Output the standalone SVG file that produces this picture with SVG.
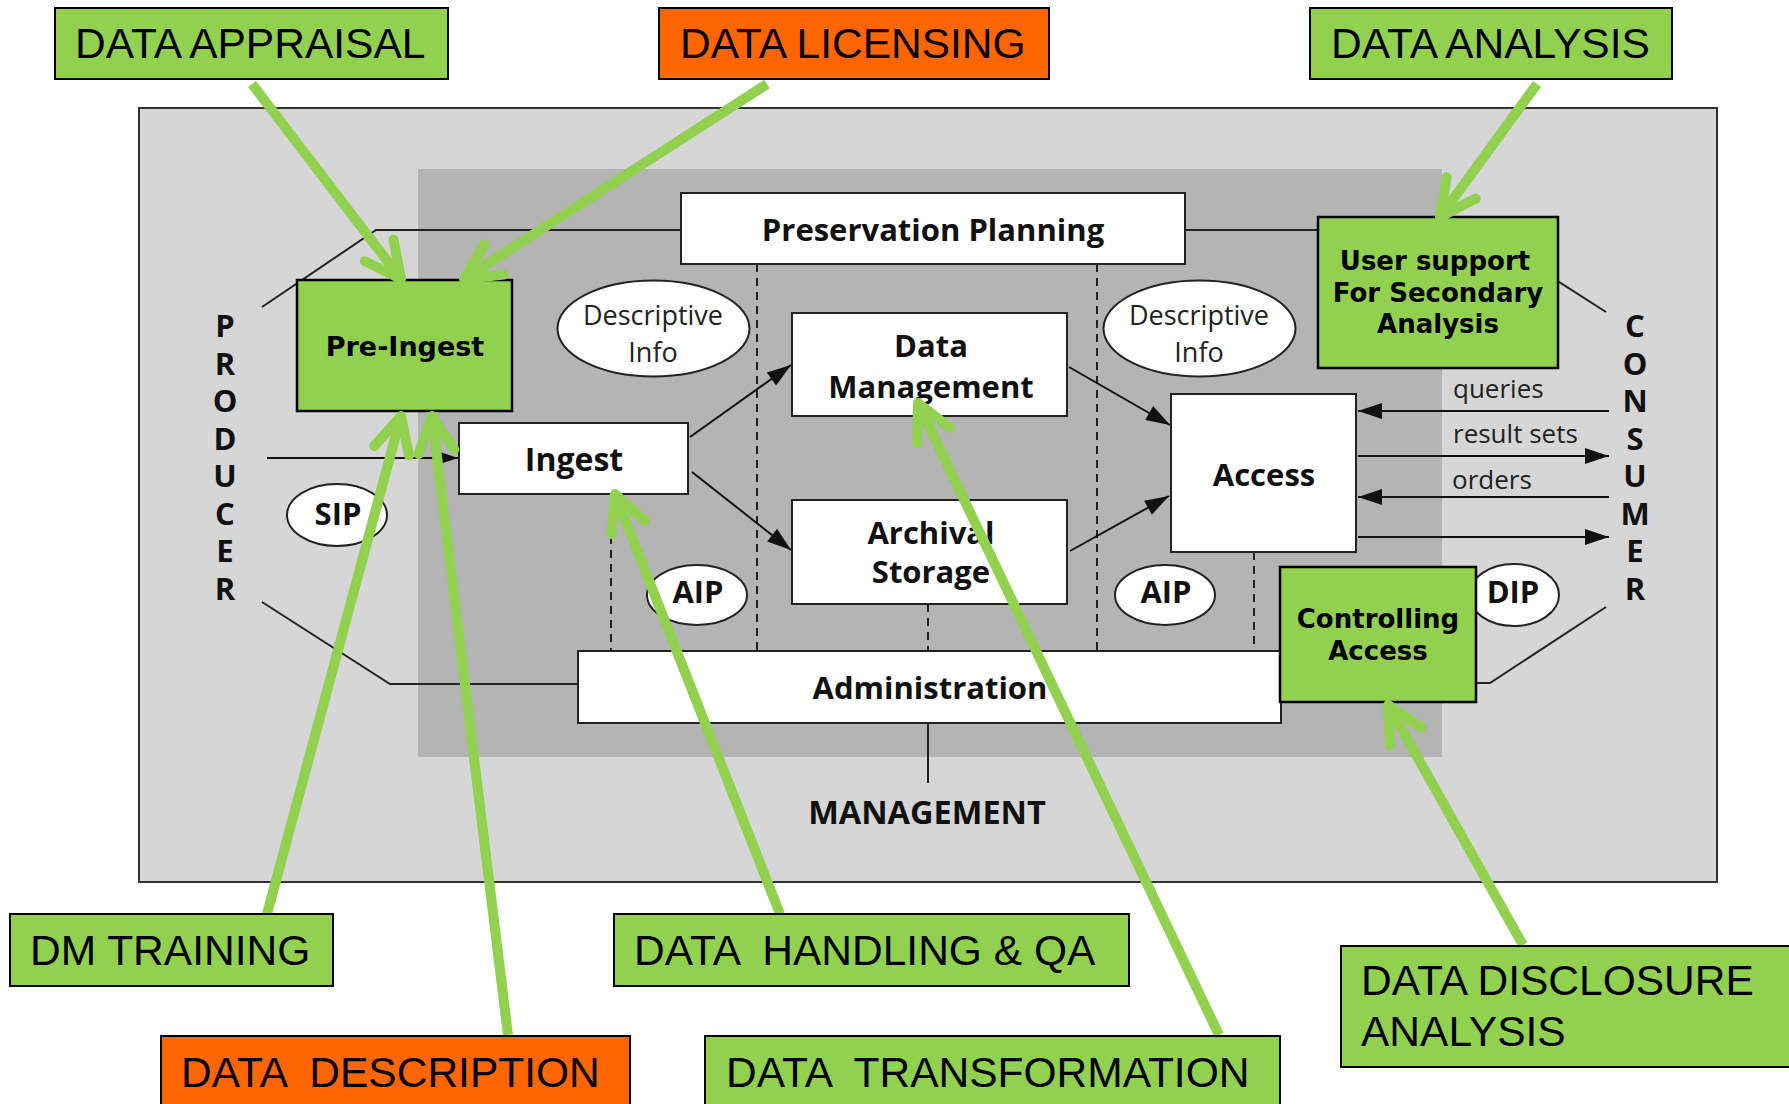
<svg xmlns="http://www.w3.org/2000/svg" width="1789" height="1104" viewBox="0 0 1789 1104">
<defs>
<style>
.lbl{font-family:"Liberation Sans",Arial,sans-serif;font-size:42.5px;fill:#000;white-space:pre}
.b{font-family:"Open Sans",sans-serif;font-weight:bold;font-size:31px;text-anchor:middle;fill:#111}
.r{font-family:"Open Sans",sans-serif;font-size:27px;text-anchor:middle;fill:#222}
.rs{font-family:"Open Sans",sans-serif;font-size:26px;fill:#222}
.g{font-family:"DejaVu Sans",Verdana,sans-serif;font-weight:bold;font-size:26px;text-anchor:middle;fill:#000}
.wb{fill:#fff;stroke:#222;stroke-width:2}
.el{fill:#fff;stroke:#222;stroke-width:2}
.gb{fill:#92d050;stroke:#000;stroke-width:2.5}
.ob{fill:#ff6600;stroke:#000;stroke-width:2}
.ln{fill:none;stroke:#222;stroke-width:2}
.ar{fill:none;stroke:#111;stroke-width:2;marker-end:url(#ah)}
.dash{fill:none;stroke:#222;stroke-width:2;stroke-dasharray:8 6}
.ga{fill:none;stroke:#92d050;stroke-width:10;marker-end:url(#gah)}
</style>
<marker id="ah" markerUnits="userSpaceOnUse" viewBox="-30 -15 35 30" markerWidth="35" markerHeight="30" refX="0" refY="0" orient="auto">
<path d="M0,0 L-24,-8 L-24,8 Z" fill="#111"/>
</marker>
<marker id="gah" markerUnits="userSpaceOnUse" viewBox="-60 -35 70 70" markerWidth="70" markerHeight="70" refX="0" refY="0" orient="auto" overflow="visible">
<path d="M-36,-18 L0,0 L-36,18" fill="none" stroke="#92d050" stroke-width="10" stroke-linecap="round" stroke-linejoin="round"/>
</marker>
</defs>
<rect width="1789" height="1104" fill="#fff"/>

<g id="background">
<rect x="139" y="108" width="1578" height="774" fill="#d6d6d6" stroke="#333" stroke-width="2"/>
<rect x="418" y="169" width="1024" height="588" fill="#b4b4b4"/>
</g>

<g id="connectors">
<path class="ln" d="M262,307 L376,230 L681,230"/>
<path class="ln" d="M1185,230 L1478,230 L1606,312"/>
<path class="ln" d="M262,602 L390,684 L578,684"/>
<path class="ln" d="M1606,607 L1490,683 L1281,683"/>
<line class="dash" x1="757" y1="264" x2="757" y2="651"/>
<line class="dash" x1="1097" y1="264" x2="1097" y2="651"/>
<line class="dash" x1="611" y1="494" x2="611" y2="651"/>
<line class="dash" x1="928" y1="604" x2="928" y2="651"/>
<line class="dash" x1="1254" y1="552" x2="1254" y2="651"/>
<line class="ln" x1="928" y1="723" x2="928" y2="783"/>
<line class="ar" x1="267" y1="458" x2="458" y2="458"/>
<line class="ar" x1="690" y1="437" x2="791" y2="365"/>
<line class="ar" x1="692" y1="472" x2="791" y2="550"/>
<line class="ar" x1="1069" y1="367" x2="1170" y2="425"/>
<line class="ar" x1="1070" y1="551" x2="1169" y2="496"/>
<line class="ar" x1="1609" y1="411" x2="1358" y2="411"/>
<line class="ar" x1="1358" y1="456" x2="1609" y2="456"/>
<line class="ar" x1="1609" y1="497" x2="1358" y2="497"/>
<line class="ar" x1="1358" y1="537" x2="1609" y2="537"/>
</g>

<g id="preservation-planning">
<rect class="wb" x="681" y="193" width="504" height="71"/>
<text class="b" x="933" y="241">Preservation Planning</text>
</g>
<g id="ingest">
<rect class="wb" x="459" y="423" width="229" height="71"/>
<text class="b" x="574" y="471" style="font-size:32px">Ingest</text>
</g>
<g id="data-management">
<rect class="wb" x="792" y="313" width="275" height="103"/>
<text class="b"><tspan x="931" y="357">Data</tspan><tspan x="931" y="398">Management</tspan></text>
</g>
<g id="archival-storage">
<rect class="wb" x="792" y="500" width="275" height="104"/>
<text class="b"><tspan x="931" y="544">Archival</tspan><tspan x="931" y="583">Storage</tspan></text>
</g>
<g id="access">
<rect class="wb" x="1171" y="394" width="185" height="158"/>
<text class="b" x="1264" y="486">Access</text>
</g>
<g id="administration">
<rect class="wb" x="578" y="651" width="703" height="72"/>
<text class="b" x="930" y="699">Administration</text>
</g>
<g id="management">
<text class="b" x="927" y="824" style="font-size:32.5px">MANAGEMENT</text>
</g>
<g id="producer">
<text class="b"><tspan x="225" y="337">P</tspan><tspan x="225" y="374.5">R</tspan><tspan x="225" y="412">O</tspan><tspan x="225" y="449.5">D</tspan><tspan x="225" y="487">U</tspan><tspan x="225" y="524.5">C</tspan><tspan x="225" y="562">E</tspan><tspan x="225" y="599.5">R</tspan></text>
</g>
<g id="consumer">
<text class="b"><tspan x="1635" y="337">C</tspan><tspan x="1635" y="374.5">O</tspan><tspan x="1635" y="412">N</tspan><tspan x="1635" y="449.5">S</tspan><tspan x="1635" y="487">U</tspan><tspan x="1635" y="524.5">M</tspan><tspan x="1635" y="562">E</tspan><tspan x="1635" y="599.5">R</tspan></text>
</g>
<g id="flow-labels">
<text class="rs" x="1453" y="398">queries</text>
<text class="rs" x="1453" y="443">result sets</text>
<text class="rs" x="1452" y="489">orders</text>
</g>
<g id="descriptive-info-1">
<ellipse class="el" cx="653.5" cy="328.5" rx="96" ry="48"/>
<text class="r"><tspan x="653" y="325">Descriptive</tspan><tspan x="653" y="362">Info</tspan></text>
</g>
<g id="descriptive-info-2">
<ellipse class="el" cx="1199.5" cy="328.5" rx="96" ry="48"/>
<text class="r"><tspan x="1199" y="325">Descriptive</tspan><tspan x="1199" y="362">Info</tspan></text>
</g>
<g id="sip">
<ellipse class="el" cx="337" cy="515" rx="50" ry="31"/>
<text class="b" x="338" y="525">SIP</text>
</g>
<g id="aip-1">
<ellipse class="el" cx="697" cy="595" rx="50" ry="30"/>
<text class="b" x="698" y="603">AIP</text>
</g>
<g id="aip-2">
<ellipse class="el" cx="1165" cy="595" rx="50" ry="30"/>
<text class="b" x="1166" y="603">AIP</text>
</g>
<g id="dip">
<ellipse class="el" cx="1514" cy="595" rx="45" ry="31"/>
<text class="b" x="1513" y="603">DIP</text>
</g>

<g id="pre-ingest">
<rect class="gb" x="297" y="280" width="215" height="131"/>
<text class="g" x="405" y="356" style="font-size:27px">Pre-Ingest</text>
</g>
<g id="user-support">
<rect class="gb" x="1318" y="217" width="240" height="151"/>
<text class="g"><tspan x="1435" y="270">User support</tspan><tspan x="1438" y="302">For Secondary</tspan><tspan x="1438" y="333">Analysis</tspan></text>
</g>
<g id="controlling-access">
<rect class="gb" x="1280" y="567" width="196" height="135"/>
<text class="g"><tspan x="1378" y="628">Controlling</tspan><tspan x="1378" y="660">Access</tspan></text>
</g>

<g id="green-arrows">
<line class="ga" x1="252" y1="84" x2="401" y2="279"/>
<line class="ga" x1="767" y1="84" x2="464" y2="279"/>
<line class="ga" x1="1537" y1="84" x2="1440" y2="217"/>
<line class="ga" x1="267" y1="914" x2="401" y2="416"/>
<line class="ga" x1="508" y1="1035" x2="432" y2="416"/>
<line class="ga" x1="780" y1="914" x2="615" y2="494"/>
<line class="ga" x1="1219" y1="1035" x2="918" y2="403"/>
<line class="ga" x1="1523" y1="945" x2="1388" y2="705"/>
</g>

<g id="data-appraisal">
<rect class="gb" x="55" y="8" width="393" height="71" style="stroke-width:2"/>
<text class="lbl" x="75" y="58">DATA APPRAISAL</text>
</g>
<g id="data-licensing">
<rect class="ob" x="659" y="8" width="390" height="71"/>
<text class="lbl" x="680" y="58">DATA LICENSING</text>
</g>
<g id="data-analysis">
<rect class="gb" x="1310" y="8" width="362" height="71" style="stroke-width:2"/>
<text class="lbl" x="1331" y="58">DATA ANALYSIS</text>
</g>
<g id="dm-training">
<rect class="gb" x="10" y="914" width="323" height="72" style="stroke-width:2"/>
<text class="lbl" x="30" y="965">DM TRAINING</text>
</g>
<g id="data-handling">
<rect class="gb" x="614" y="914" width="515" height="72" style="stroke-width:2"/>
<text class="lbl" x="634" y="965" xml:space="preserve">DATA  HANDLING &amp; QA</text>
</g>
<g id="data-description">
<rect class="ob" x="161" y="1036" width="469" height="75"/>
<text class="lbl" x="181" y="1087" xml:space="preserve">DATA  DESCRIPTION</text>
</g>
<g id="data-transformation">
<rect class="gb" x="705" y="1036" width="575" height="75" style="stroke-width:2"/>
<text class="lbl" x="726" y="1087" xml:space="preserve">DATA  TRANSFORMATION</text>
</g>
<g id="data-disclosure">
<rect class="gb" x="1341" y="946" width="460" height="121" style="stroke-width:2"/>
<text class="lbl"><tspan x="1361" y="995">DATA DISCLOSURE</tspan><tspan x="1361" y="1046">ANALYSIS</tspan></text>
</g>
</svg>
